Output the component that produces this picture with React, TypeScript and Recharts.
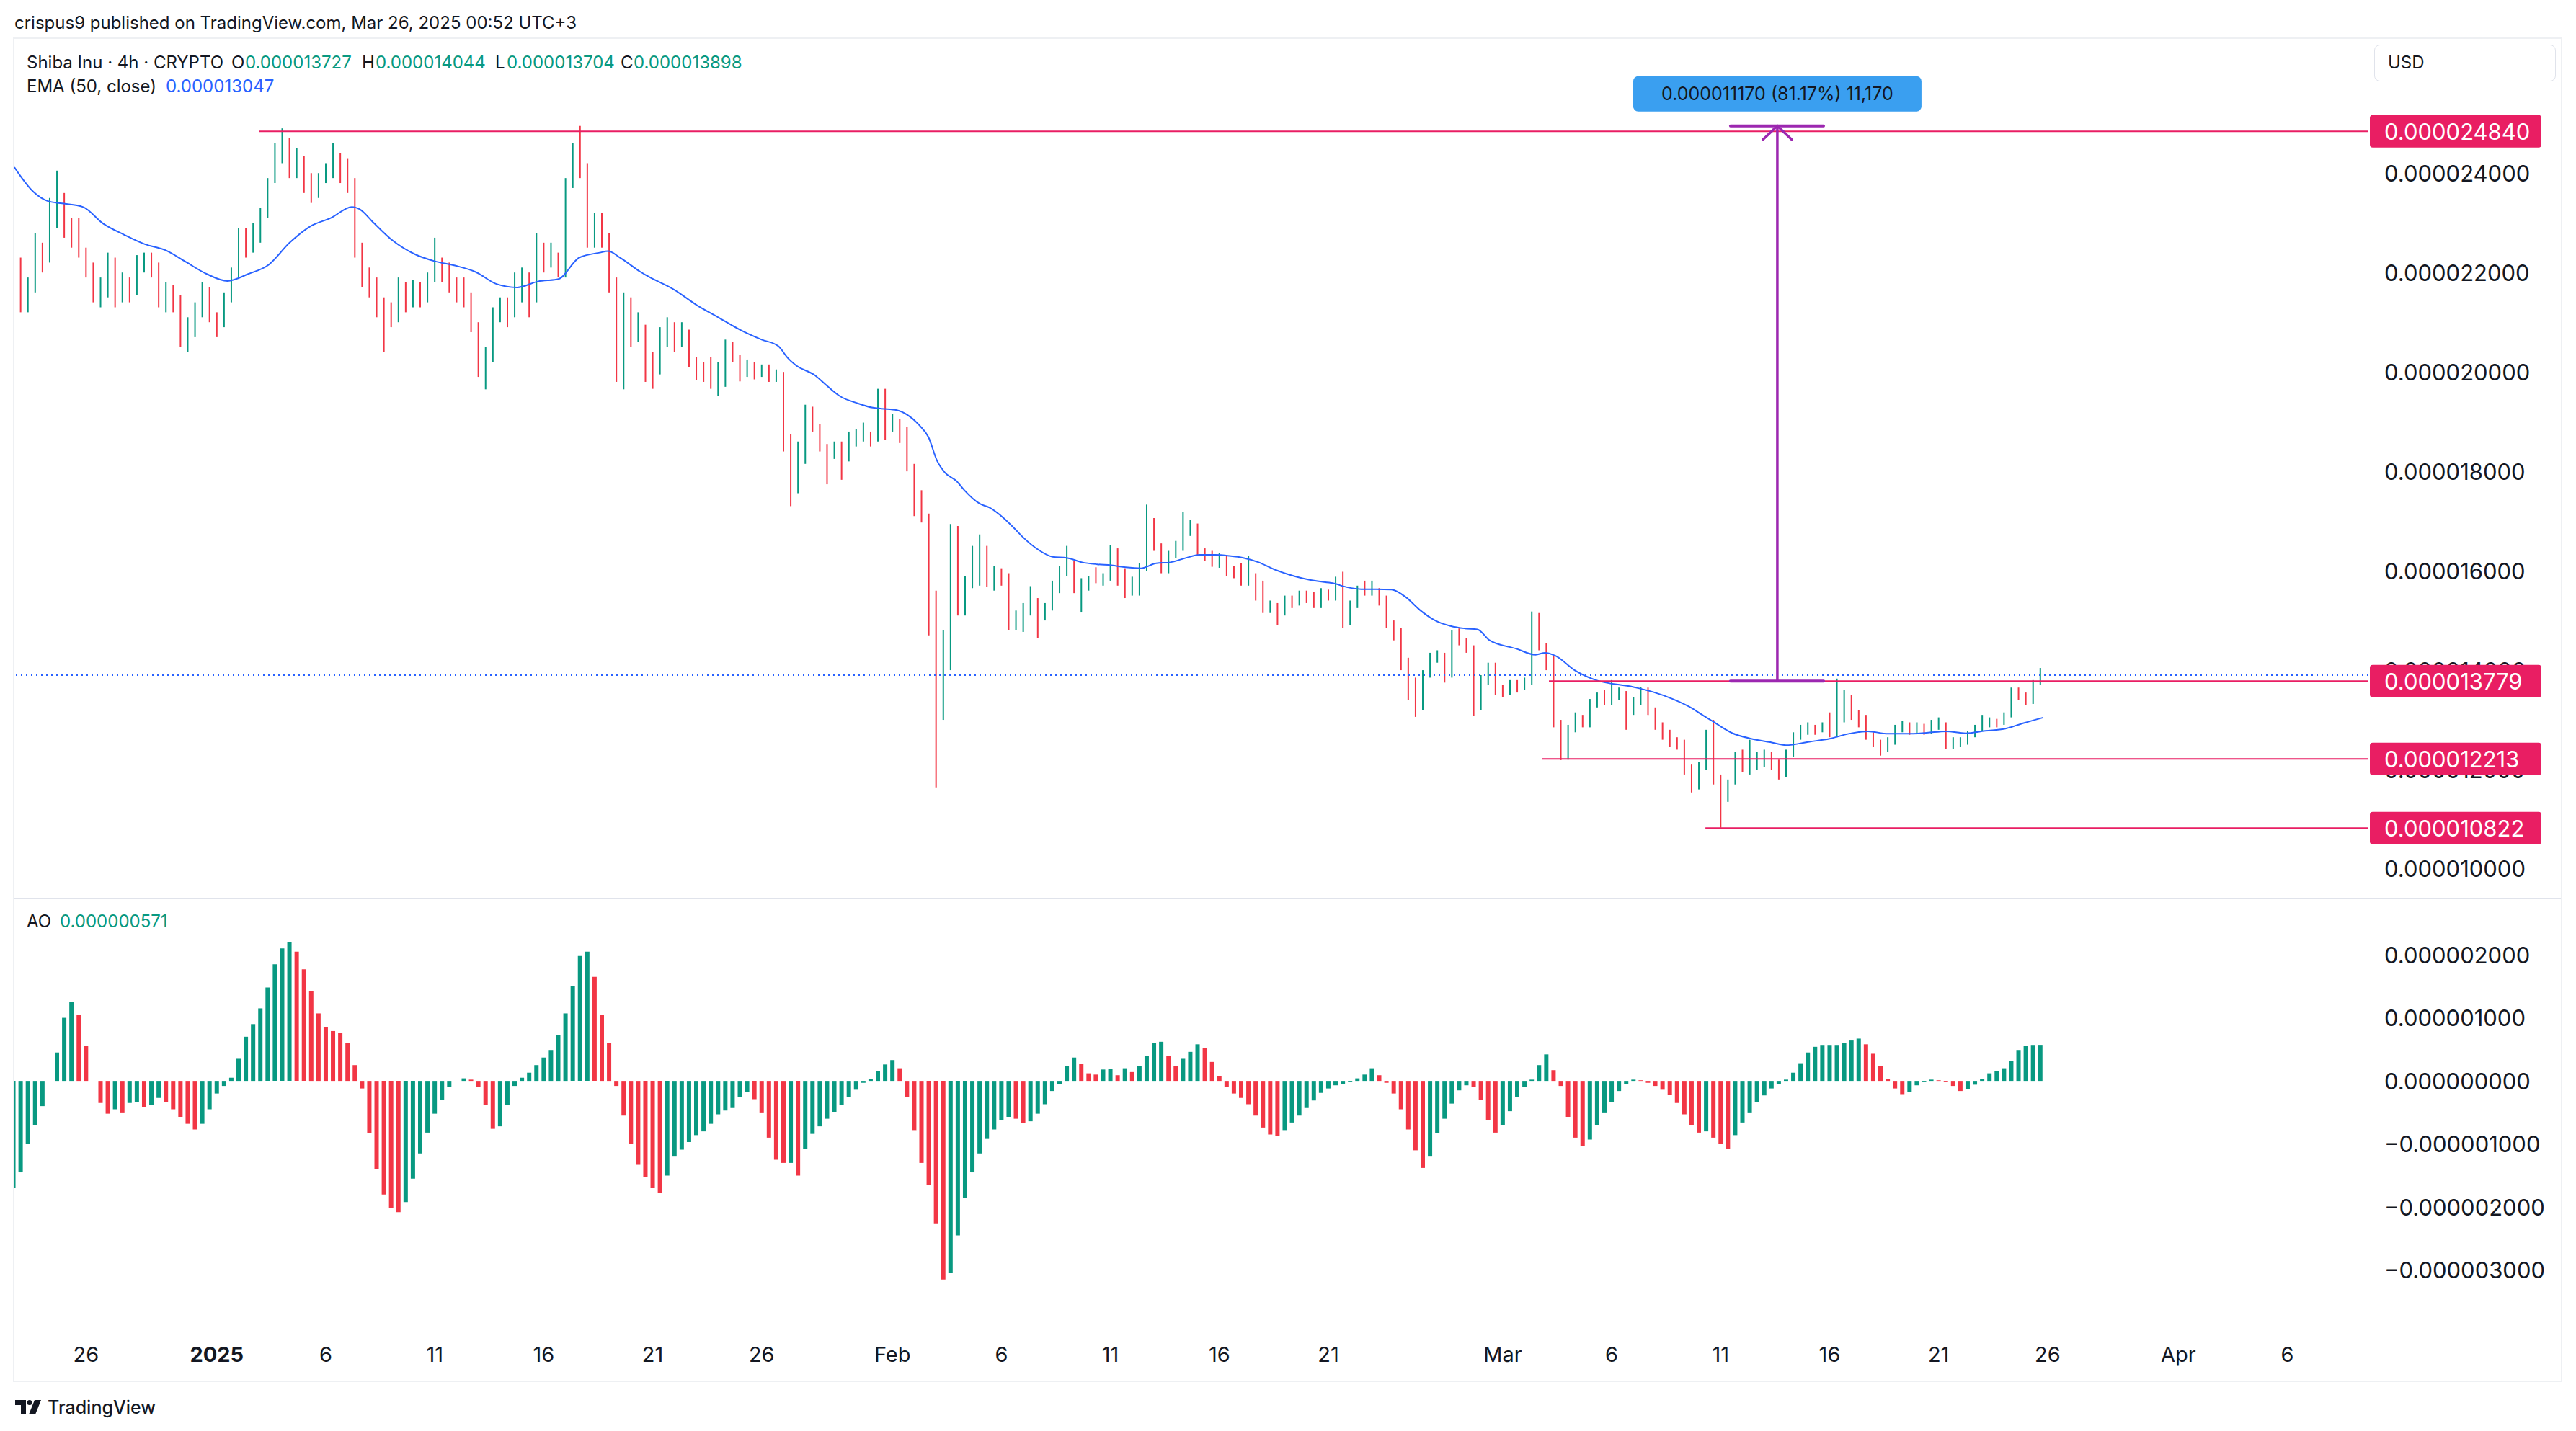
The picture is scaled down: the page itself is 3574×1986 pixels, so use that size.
import React from 'react'
import { ComposedChart, Bar, Line, XAxis, YAxis, ReferenceLine, Cell } from 'recharts'

// prices below are in units of 1e-6 USD (13.898 -> 0.000013898)
// candles are 8h buckets; x is measured in days from Jan 1 2025
const firstCandleDay = -9 - 1 / 3
const candleStepDays = 8 / 24
const firstOpen = 21.3

const closes = [
  22.0, 21.3, 21.6, 22.5, 22.3, 23.3, 23.4, 22.9, 22.8, 22.45,
  22.1, 21.5, 21.7, 22.2, 21.5, 21.8, 21.6, 22.05, 22.35, 22.1,
  21.5, 21.55, 21.35, 20.7, 20.8, 21.15, 21.6, 21.15, 20.95, 21.5,
  22.0, 22.8, 22.5, 22.8, 23.2, 23.8, 24.4, 24.65, 24.05, 24.3,
  23.75, 23.7, 23.9, 24.1, 24.35, 24.0, 23.8, 22.5, 21.9, 21.75,
  21.3, 21.2, 21.1, 21.7, 21.4, 21.7, 21.5, 21.9, 22.2, 21.95,
  21.7, 21.6, 21.55, 20.9, 20.0, 20.4, 21.2, 21.3, 21.2, 21.8,
  21.95, 21.5, 22.5, 22.3, 22.35, 22.0, 23.8, 24.3, 24.1, 22.7,
  22.75, 22.7, 21.8, 20.55, 21.4, 20.7, 20.9, 20.3, 20.1, 20.6,
  20.9, 20.7, 20.8, 20.2, 20.05, 19.95, 19.75, 19.8, 20.5, 20.3,
  20.0, 20.15, 19.95, 20.05, 19.88, 19.95, 18.7, 17.9, 18.4, 19.15,
  18.9, 18.5, 18.3, 18.45, 18.35, 18.65, 18.7, 18.75, 18.65, 19.5,
  18.9, 19.0, 18.85, 18.1, 17.4, 17.1, 15.5, 13.7, 14.6, 16.7,
  15.2, 15.7, 15.8, 16.4, 15.95, 15.95, 15.85, 14.9, 15.05, 15.2,
  15.35, 15.1, 15.25, 15.6, 15.95, 16.1, 15.65, 15.75, 15.85, 15.82,
  15.85, 16.3, 16.0, 15.65, 15.75, 16.05, 16.95, 16.5, 16.2, 16.3,
  16.45, 16.8, 16.85, 16.4, 16.3, 16.2, 16.25, 16.05, 15.98, 15.8,
  15.85, 15.7, 15.25, 15.3, 15.15, 15.4, 15.35, 15.5, 15.45, 15.35,
  15.55, 15.45, 15.72, 14.95, 15.3, 15.62, 15.58, 15.6, 15.42, 14.98,
  14.82, 14.2, 13.75, 13.4, 13.9, 14.25, 14.28, 13.9, 14.65, 14.6,
  14.45, 13.4, 13.8, 14.0, 13.6, 13.58, 13.7, 13.65, 13.75, 14.95,
  14.5, 14.25, 12.95, 12.55, 12.8, 13.05, 12.92, 13.3, 13.48, 13.45,
  13.5, 13.55, 13.2, 13.35, 13.6, 13.2, 12.9, 12.7, 12.55, 12.5,
  12.05, 11.8, 12.05, 12.65, 11.85, 11.5, 11.72, 12.25, 12.1, 12.12,
  12.2, 12.25, 12.15, 11.9, 12.3, 12.7, 12.8, 12.82, 12.78, 12.88,
  12.75, 13.0, 13.45, 13.15, 12.95, 12.7, 12.55, 12.38, 12.55, 12.8,
  12.88, 12.8, 12.85, 12.78, 12.9, 12.92, 12.5, 12.52, 12.55, 12.7,
  12.82, 12.92, 12.95, 12.92, 13.08, 13.55, 13.5, 13.38, 13.72, 13.898,
]

const highs = [
  22.1, 22.3, 21.9, 22.8, 22.6, 23.5, 24.05, 23.6, 23.1, 23.1,
  22.5, 22.2, 21.9, 22.4, 22.3, 22.0, 21.9, 22.35, 22.4, 22.4,
  22.2, 21.8, 21.75, 21.55, 21.1, 21.4, 21.8, 21.7, 21.2, 21.6,
  22.1, 22.9, 22.9, 23.0, 23.3, 23.9, 24.6, 24.9, 24.7, 24.5,
  24.35, 24.0, 24.0, 24.2, 24.6, 24.4, 24.3, 23.9, 22.6, 22.1,
  21.9, 21.5, 21.4, 21.9, 21.8, 21.85, 21.8, 22.0, 22.7, 22.3,
  22.2, 21.9, 21.9, 21.6, 21.0, 20.5, 21.3, 21.5, 21.5, 22.0,
  22.1, 22.0, 22.8, 22.6, 22.6, 22.4, 23.9, 24.6, 24.95, 24.2,
  23.2, 23.2, 22.8, 21.9, 21.6, 21.5, 21.2, 20.95, 20.4, 20.9,
  21.1, 21.0, 21.0, 20.85, 20.3, 20.2, 20.3, 20.2, 20.65, 20.6,
  20.35, 20.25, 20.2, 20.15, 20.15, 20.05, 20.0, 18.75, 18.6, 19.34,
  19.3, 18.95, 18.55, 18.6, 18.6, 18.8, 18.85, 18.98, 18.8, 19.66,
  19.66, 19.15, 19.05, 18.9, 18.15, 17.62, 17.15, 15.6, 14.8, 16.94,
  16.9, 15.9, 16.5, 16.73, 16.5, 16.1, 16.05, 15.95, 15.2, 15.35,
  15.69, 15.45, 15.35, 15.8, 16.1, 16.5, 16.2, 15.85, 15.9, 16.07,
  15.95, 16.51, 16.45, 16.05, 15.88, 16.15, 17.33, 17.06, 16.55, 16.4,
  16.6, 17.19, 17.02, 16.95, 16.45, 16.4, 16.35, 16.3, 16.1, 16.15,
  16.3, 15.95, 15.8, 15.4, 15.35, 15.5, 15.5, 15.6, 15.6, 15.57,
  15.65, 15.62, 15.88, 15.98, 15.4, 15.7, 15.8, 15.8, 15.65, 15.5,
  15.0, 14.85, 14.25, 13.85, 14.0, 14.35, 14.4, 14.35, 14.8, 14.84,
  14.65, 14.5, 13.9, 14.15, 14.15, 13.7, 13.8, 13.8, 13.85, 15.18,
  15.15, 14.55, 14.3, 13.0, 12.9, 13.15, 13.1, 13.42, 13.55, 13.6,
  13.8, 13.65, 13.58, 13.45, 13.66, 13.65, 13.25, 12.95, 12.8, 12.65,
  12.6, 12.1, 12.15, 12.8, 13.0, 11.9, 11.8, 12.35, 12.4, 12.6,
  12.35, 12.4, 12.35, 12.2, 12.4, 12.75, 12.9, 12.95, 12.9, 12.95,
  13.15, 13.83, 13.6, 13.5, 13.2, 13.1, 12.75, 12.6, 12.65, 12.9,
  12.98, 12.95, 12.95, 12.92, 13.0, 13.05, 12.95, 12.65, 12.65, 12.78,
  12.9, 13.1, 13.05, 13.02, 13.15, 13.65, 13.65, 13.55, 13.8, 14.044,
]

const lows = [
  21.0, 21.2, 21.2, 21.6, 22.0, 22.2, 22.9, 22.7, 22.5, 22.3,
  21.9, 21.4, 21.3, 21.5, 21.3, 21.4, 21.4, 21.55, 22.0, 21.9,
  21.3, 21.2, 21.2, 20.5, 20.4, 20.7, 21.1, 21.0, 20.7, 20.9,
  21.4, 21.9, 22.3, 22.4, 22.6, 23.1, 23.8, 24.2, 23.9, 23.9,
  23.6, 23.4, 23.5, 23.8, 23.9, 23.8, 23.6, 22.3, 21.7, 21.5,
  21.1, 20.4, 20.9, 21.0, 21.2, 21.3, 21.3, 21.4, 21.8, 21.8,
  21.6, 21.4, 21.3, 20.8, 19.9, 19.65, 20.2, 21.0, 20.9, 21.1,
  21.4, 21.1, 21.4, 22.0, 22.1, 21.9, 21.9, 23.7, 23.9, 22.5,
  22.5, 22.5, 21.6, 19.8, 19.65, 20.5, 20.6, 19.8, 19.66, 19.95,
  20.5, 20.4, 20.5, 20.1, 19.84, 19.8, 19.66, 19.51, 19.7, 20.2,
  19.81, 19.9, 19.85, 19.9, 19.8, 19.8, 18.4, 17.3, 17.56, 18.15,
  18.8, 18.4, 17.74, 18.25, 17.83, 18.2, 18.5, 18.6, 18.5, 18.6,
  18.63, 18.8, 18.57, 18.0, 17.1, 16.97, 14.7, 11.64, 13.0, 14.0,
  15.1, 15.1, 15.65, 15.7, 15.67, 15.6, 15.7, 14.8, 14.8, 14.77,
  15.1, 14.65, 15.0, 15.2, 15.55, 15.9, 15.55, 15.16, 15.6, 15.75,
  15.7, 15.8, 15.7, 15.45, 15.5, 15.5, 16.0, 16.4, 15.95, 15.95,
  16.25, 16.4, 16.7, 16.3, 16.2, 16.08, 16.06, 15.9, 15.85, 15.7,
  15.7, 15.4, 15.15, 15.15, 14.9, 15.1, 15.25, 15.3, 15.35, 15.25,
  15.25, 15.4, 15.4, 14.85, 14.9, 15.25, 15.5, 15.5, 15.3, 14.85,
  14.6, 14.0, 13.4, 13.06, 13.2, 13.85, 14.15, 13.75, 13.85, 14.5,
  14.35, 13.08, 13.2, 13.7, 13.5, 13.45, 13.5, 13.55, 13.6, 13.7,
  14.4, 14.0, 12.85, 12.19, 12.2, 12.75, 12.85, 12.85, 13.25, 13.3,
  13.3, 13.4, 12.8, 13.1, 13.3, 13.1, 12.8, 12.6, 12.45, 12.4,
  11.9, 11.54, 11.6, 12.0, 11.7, 10.83, 11.35, 11.7, 11.95, 11.9,
  12.0, 12.05, 12.0, 11.8, 11.85, 12.25, 12.6, 12.7, 12.7, 12.75,
  12.65, 12.65, 12.95, 13.0, 12.85, 12.6, 12.45, 12.28, 12.35, 12.5,
  12.75, 12.7, 12.72, 12.7, 12.72, 12.8, 12.42, 12.42, 12.45, 12.5,
  12.65, 12.78, 12.85, 12.85, 12.9, 13.05, 13.4, 13.3, 13.32, 13.7,
]

// Awesome Oscillator, same 8h buckets, units of 1e-6
const aoValues = [
  -1.7, -1.45, -1.0, -0.7, -0.4, 0.0, 0.45, 1.0, 1.25, 1.05,
  0.55, 0.0, -0.35, -0.52, -0.45, -0.5, -0.35, -0.33, -0.42, -0.38,
  -0.27, -0.33, -0.45, -0.57, -0.68, -0.77, -0.68, -0.45, -0.2, -0.08,
  0.05, 0.35, 0.7, 0.9, 1.15, 1.48, 1.85, 2.1, 2.2, 2.05,
  1.77, 1.42, 1.07, 0.85, 0.79, 0.76, 0.6, 0.25, -0.12, -0.83,
  -1.4, -1.8, -2.02, -2.08, -1.92, -1.55, -1.15, -0.82, -0.52, -0.3,
  -0.1, 0.0, 0.04, 0.02, -0.1, -0.38, -0.76, -0.72, -0.38, -0.08,
  0.05, 0.13, 0.25, 0.37, 0.49, 0.73, 1.07, 1.5, 1.98, 2.05,
  1.65, 1.05, 0.6, -0.08, -0.55, -1.0, -1.33, -1.53, -1.7, -1.78,
  -1.5, -1.2, -1.09, -0.97, -0.86, -0.8, -0.68, -0.53, -0.47, -0.43,
  -0.25, -0.18, -0.29, -0.5, -0.9, -1.25, -1.3, -1.3, -1.5, -1.08,
  -0.84, -0.72, -0.6, -0.49, -0.38, -0.26, -0.14, -0.03, 0.03, 0.15,
  0.26, 0.33, 0.2, -0.25, -0.78, -1.3, -1.65, -2.27, -3.15, -3.05,
  -2.45, -1.85, -1.45, -1.15, -0.92, -0.77, -0.62, -0.57, -0.6, -0.67,
  -0.64, -0.52, -0.37, -0.16, -0.05, 0.24, 0.37, 0.27, 0.12, 0.1,
  0.18, 0.19, 0.09, 0.2, 0.14, 0.23, 0.4, 0.6, 0.62, 0.4,
  0.24, 0.35, 0.46, 0.58, 0.52, 0.3, 0.08, -0.1, -0.2, -0.27,
  -0.37, -0.55, -0.74, -0.85, -0.87, -0.78, -0.66, -0.55, -0.43, -0.31,
  -0.19, -0.12, -0.07, -0.05, -0.01, 0.04, 0.1, 0.2, 0.09, -0.03,
  -0.2, -0.45, -0.77, -1.1, -1.38, -1.2, -0.83, -0.6, -0.36, -0.15,
  -0.07, -0.1, -0.3, -0.62, -0.82, -0.7, -0.48, -0.25, -0.1, 0.02,
  0.25, 0.42, 0.17, -0.08, -0.57, -0.9, -1.03, -0.93, -0.7, -0.5,
  -0.33, -0.16, -0.05, 0.02, 0.01, -0.03, -0.08, -0.14, -0.22, -0.35,
  -0.53, -0.7, -0.82, -0.8, -0.9, -1.0, -1.08, -0.86, -0.66, -0.5,
  -0.34, -0.23, -0.12, -0.05, 0.02, 0.13, 0.28, 0.45, 0.54, 0.57,
  0.57, 0.57, 0.6, 0.64, 0.67, 0.58, 0.43, 0.24, 0.03, -0.12,
  -0.21, -0.17, -0.07, -0.01, 0.02, 0.01, -0.02, -0.08, -0.16, -0.13,
  -0.06, 0.03, 0.12, 0.16, 0.2, 0.32, 0.49, 0.56, 0.57, 0.571,
]

// EMA(50, close)
const emaDays = [
  -9.29, -8.43, -7.77, -7.1, -6.15, -5.2, -4.25, -3.3, -2.36, -1.41, -0.46, 0.49, 1.44, 2.39, 3.34,
  4.29, 5.24, 6.2, 6.57, 7.13, 8.08, 9.03, 9.98, 10.93, 11.88, 12.83, 13.78, 14.73, 15.68, 16.63,
  17.57, 17.95, 18.5, 19.45, 19.8, 21, 22, 23, 24, 25, 25.76, 26.2, 26.55, 27.45, 28.0, 28.6, 29.4,
  30.1, 30.5, 31.2, 31.7, 32.25, 32.65, 33.05, 33.4, 33.95, 34.3, 35.0, 35.45, 36.1, 36.6, 37.0,
  37.7, 38.35, 39.0, 39.7, 40.4, 41.05, 41.7, 42.4, 43.1, 43.75, 44.4, 45.1, 45.8, 46.45, 47.1,
  47.8, 48.5, 49.15, 49.8, 50.5, 51.2, 51.85, 52.5, 53.2, 53.9, 54.55, 55.2, 55.9, 56.6, 57.25,
  57.84, 58.4, 59.63, 60.5, 60.95, 61.42, 62.3, 63.2, 65.0, 65.9, 66.8, 67.7, 68.05, 68.6, 69.5,
  70.4, 71.28, 72.0, 73.07, 74.0, 74.87, 75.76, 76.66, 77.55, 78.45, 79.35, 80.24, 81.14, 82.03,
  82.93, 83.8,
]
const emaValues = [
  24.12, 23.63, 23.44, 23.39, 23.32, 22.98, 22.76, 22.57, 22.45, 22.21, 21.97, 21.83, 21.97, 22.16, 22.6,
  22.93, 23.1, 23.32, 23.27, 23.03, 22.64, 22.38, 22.23, 22.14, 22.01, 21.77, 21.7, 21.82, 21.87, 22.3,
  22.4, 22.43, 22.3, 22.01, 21.92, 21.65, 21.35, 21.1, 20.85, 20.65, 20.52, 20.28, 20.14, 19.93, 19.72, 19.51, 19.37,
  19.28, 19.26, 19.23, 19.13, 18.92, 18.69, 18.21, 17.98, 17.8, 17.62, 17.35, 17.27, 17.06, 16.85, 16.67,
  16.42, 16.28, 16.26, 16.17, 16.13, 16.11, 16.07, 16.05, 16.15, 16.17, 16.25, 16.32, 16.32, 16.3, 16.26,
  16.17, 16.03, 15.93, 15.85, 15.79, 15.75, 15.67, 15.63, 15.63, 15.62, 15.47, 15.21, 15.0, 14.89, 14.84,
  14.82, 14.6, 14.43, 14.31, 14.35, 14.29, 14.0, 13.81, 13.66, 13.56, 13.42, 13.23, 13.13, 12.98, 12.74,
  12.62, 12.55, 12.49, 12.56, 12.62, 12.72, 12.77, 12.72, 12.72, 12.74, 12.77, 12.73, 12.78, 12.82,
  12.94, 13.047,
]

const tickDays = [-6, 0, 5, 10, 15, 20, 25, 31, 36, 41, 46, 51, 59, 64, 69, 74, 79, 84, 90, 95]
const tickLabels = ['26', '2025', '6', '11', '16', '21', '26', 'Feb', '6', '11', '16', '21', 'Mar', '6', '11', '16', '21', '26', 'Apr', '6']

const priceTicks = [10, 12, 14, 16, 18, 20, 22, 24]
const aoTicks = [2, 1, 0, -1, -2, -3]

// drawn horizontal levels: price and the day each ray starts
const levelPrices = [24.84, 13.779, 12.213, 10.822]
const levelStartDays = [1.93, 61.12, 60.8, 68.3]
const lastPrice = 13.898

// price range measurement
const measureFrom = 13.779
const measureTo = 24.949
const measureDay = 71.6
const measureCapDays = [69.45, 73.72]
const measureText = '0.000011170 (81.17%) 11,170'

const X_MIN = -9.286
const X_MAX = 98.72
const PRICE_DOMAIN = [9.42, 26.7]

const TEXT = '#131722'
const TEAL = '#089981'
const RED = '#f23645'
const UP_BODY = '#2a6ee6'
const BLUE = '#2962ff'
const PINK = '#e91e63'
const PURPLE = '#9c27b0'
const FONT = 'Inter, "Noto Sans", Roboto, sans-serif'

const candles = closes.map((c, i) => ({
  x: firstCandleDay + i * candleStepDays,
  open: i === 0 ? firstOpen : closes[i - 1],
  close: c,
  high: highs[i],
  low: lows[i],
  range: [lows[i], highs[i]],
}))

const aoRows = aoValues.map((v, i) => ({
  x: firstCandleDay + i * candleStepDays,
  ao: v,
  up: i === 0 || v >= aoValues[i - 1],
}))

const emaRows = emaDays.map((d, i) => ({ x: d, ema: emaValues[i] }))

const fmtPrice = (v: number) => (v / 1e6).toFixed(9)
const fmtAo = (v: number) => (v < 0 ? '\u2212' : '') + (Math.abs(v) / 1e6).toFixed(9)

function Candle(props: any) {
  const { x, y, width, height, payload } = props
  if (x == null || y == null) return null
  const top = Math.min(y, y + height)
  const h = Math.abs(height)
  const span = payload.high - payload.low || 1e-9
  const ppu = h / span
  const up = payload.close >= payload.open
  const yo = top + (payload.high - payload.open) * ppu
  const yc = top + (payload.high - payload.close) * ppu
  const bodyTop = Math.min(yo, yc)
  const bodyH = Math.max(Math.abs(yo - yc), 1.5)
  const cx = x + width / 2
  const edge = up ? TEAL : RED
  return (
    <g>
      <line x1={cx} x2={cx} y1={top} y2={top + h} stroke={edge} strokeWidth={2} />
      <rect x={x + 0.75} y={bodyTop} width={width - 1.5} height={bodyH} fill={up ? UP_BODY : RED} stroke={edge} strokeWidth={1.5} />
    </g>
  )
}

function PriceTick(props: any) {
  const { x, y, payload, fmt } = props
  return (
    <text x={x + 22} y={y} dominantBaseline="central" fontSize={31} fill={TEXT}>
      {fmt(payload.value)}
    </text>
  )
}

function TimeTick(props: any) {
  const { x, y, payload } = props
  const label = tickLabels[tickDays.indexOf(payload.value)]
  return (
    <text x={x} y={y + 27} textAnchor="middle" dominantBaseline="central" fontSize={29} fontWeight={label === '2025' ? 700 : 400} fill={TEXT}>
      {label}
    </text>
  )
}

const priceTag = (text: string) => (lp: any) => {
  const vb = lp.viewBox || {}
  const right = vb.x + vb.width
  const yc = vb.y
  return (
    <g>
      <rect x={right + 2} y={yc - 22.5} width={238} height={45} rx={4} fill={PINK} />
      <text x={right + 22} y={yc} dominantBaseline="central" fontSize={31} fill="#ffffff">{text}</text>
    </g>
  )
}

function MeasureShape(p: any) {
  const top = Math.min(p.y1, p.y2)
  const bot = Math.max(p.y1, p.y2)
  const cx = p.x1
  return (
    <g>
      <line x1={cx} x2={cx} y1={top} y2={bot} stroke={PURPLE} strokeWidth={3.5} />
      <polyline points={`${cx - 20},${top + 19} ${cx},${top} ${cx + 20},${top + 19}`} fill="none" stroke={PURPLE} strokeWidth={3.5} strokeLinecap="round" />
      <rect x={cx - 200} y={top - 69} width={400} height={49} rx={7} fill="#3a9ff0" />
      <text x={cx} y={top - 44.5} textAnchor="middle" dominantBaseline="central" fontSize={25} fill={TEXT}>{measureText}</text>
    </g>
  )
}

function Txt({ left, top, color, size, weight, children }: any) {
  return (
    <div style={{ position: 'absolute', left, top, transform: 'translateY(-50%)', fontSize: size || 24, fontWeight: weight || 400, lineHeight: 1, whiteSpace: 'nowrap', color: color || TEXT }}>
      {children}
    </div>
  )
}

export default function App() {
  return (
    <div style={{ position: 'absolute', left: 0, top: 0, width: 3574, height: 1986, background: '#ffffff', fontFamily: FONT, color: TEXT, overflow: 'hidden' }}>
      <div style={{ position: 'absolute', left: 18, top: 52, width: 3537, height: 1866, border: '2px solid #eef0f3', boxSizing: 'border-box' }} />

      {/* price pane: candles, EMA, price scale */}
      <div style={{ position: 'absolute', left: 20, top: 54 }}>
        <ComposedChart width={3533} height={1192} data={candles} margin={{ top: 0, right: 0, bottom: 0, left: 0 }}>
          <XAxis type="number" dataKey="x" domain={[X_MIN, X_MAX]} allowDataOverflow hide />
          <YAxis
            orientation="right"
            width={267}
            domain={PRICE_DOMAIN}
            allowDataOverflow
            ticks={priceTicks}
            interval={0}
            tickSize={0}
            tickMargin={0}
            axisLine={false}
            tickLine={false}
            tick={(p: any) => <PriceTick {...p} fmt={fmtPrice} />}
          />
          <ReferenceLine y={lastPrice} stroke={BLUE} strokeWidth={2} strokeDasharray="2 5" />
          <Bar dataKey="range" barSize={7} shape={(p: any) => <Candle {...p} />} isAnimationActive={false} />
          <Line data={emaRows} dataKey="ema" type="monotone" dot={false} stroke={BLUE} strokeWidth={2} isAnimationActive={false} />
        </ComposedChart>
      </div>

      {/* drawings layer on the same scales, above the price scale text */}
      <div style={{ position: 'absolute', left: 20, top: 54, pointerEvents: 'none' }}>
        <ComposedChart width={3533} height={1192} data={candles} margin={{ top: 0, right: 267, bottom: 0, left: 0 }}>
          <XAxis type="number" dataKey="x" domain={[X_MIN, X_MAX]} allowDataOverflow hide />
          <YAxis domain={PRICE_DOMAIN} allowDataOverflow hide />
          {levelPrices.map((p, i) => (
            <ReferenceLine
              key={'lvl' + i}
              segment={[{ x: levelStartDays[i], y: p }, { x: X_MAX, y: p }]}
              stroke={PINK}
              strokeWidth={2}
              label={priceTag(fmtPrice(p))}
            />
          ))}
          <ReferenceLine segment={[{ x: measureCapDays[0], y: measureFrom }, { x: measureCapDays[1], y: measureFrom }]} stroke={PURPLE} strokeWidth={4} strokeLinecap="round" />
          <ReferenceLine segment={[{ x: measureCapDays[0], y: measureTo }, { x: measureCapDays[1], y: measureTo }]} stroke={PURPLE} strokeWidth={4} strokeLinecap="round" />
          <ReferenceLine segment={[{ x: measureDay, y: measureFrom }, { x: measureDay, y: measureTo }]} stroke={PURPLE} shape={(p: any) => <MeasureShape {...p} />} />
        </ComposedChart>
      </div>

      <div style={{ position: 'absolute', left: 20, top: 1246, width: 3533, height: 2, background: '#e0e3eb' }} />

      {/* AO pane with time axis */}
      <div style={{ position: 'absolute', left: 20, top: 1248 }}>
        <ComposedChart width={3533} height={668} data={aoRows} margin={{ top: 0, right: 0, bottom: 0, left: 0 }}>
          <XAxis
            type="number"
            dataKey="x"
            domain={[X_MIN, X_MAX]}
            allowDataOverflow
            ticks={tickDays}
            interval={0}
            height={64}
            tickSize={0}
            tickMargin={0}
            axisLine={false}
            tickLine={false}
            tick={(p: any) => <TimeTick {...p} />}
          />
          <YAxis
            orientation="right"
            width={267}
            domain={[-4.02, 2.88]}
            allowDataOverflow
            ticks={aoTicks}
            interval={0}
            tickSize={0}
            tickMargin={0}
            axisLine={false}
            tickLine={false}
            tick={(p: any) => <PriceTick {...p} fmt={fmtAo} />}
          />
          <Bar dataKey="ao" barSize={6} isAnimationActive={false}>
            {aoRows.map((r, i) => (
              <Cell key={i} fill={r.up ? TEAL : RED} />
            ))}
          </Bar>
        </ComposedChart>
      </div>

      <Txt left={20} top={32}>crispus9 published on TradingView.com, Mar 26, 2025 00:52 UTC+3</Txt>

      <Txt left={37} top={87}>Shiba Inu · 4h · CRYPTO</Txt>
      <Txt left={321} top={87}>O</Txt>
      <Txt left={340} top={87} color={TEAL}>0.000013727</Txt>
      <Txt left={502} top={87}>H</Txt>
      <Txt left={521} top={87} color={TEAL}>0.000014044</Txt>
      <Txt left={687} top={87}>L</Txt>
      <Txt left={703} top={87} color={TEAL}>0.000013704</Txt>
      <Txt left={861} top={87}>C</Txt>
      <Txt left={879} top={87} color={TEAL}>0.000013898</Txt>
      <Txt left={37} top={120}>EMA (50, close)</Txt>
      <Txt left={230} top={120} color={BLUE}>0.000013047</Txt>

      <Txt left={37} top={1279}>AO</Txt>
      <Txt left={83} top={1279} color={TEAL}>0.000000571</Txt>

      <div style={{ position: 'absolute', left: 3294, top: 62, width: 252, height: 51, border: '1.5px solid #e0e3eb', borderRadius: 8, boxSizing: 'border-box', background: '#fff' }}>
        <Txt left={18} top={24}>USD</Txt>
      </div>

      <svg style={{ position: 'absolute', left: 21, top: 1943 }} width={38} height={20} viewBox="0 0 38 20">
        <path d="M0 0h15v20h-7v-13h-8z" fill={TEXT} />
        <circle cx={20} cy={3.5} r={3.5} fill={TEXT} />
        <path d="M27 0h9l-8 20h-9z" fill={TEXT} />
      </svg>
      <Txt left={66} top={1953} size={25} weight={500}>TradingView</Txt>
    </div>
  )
}
